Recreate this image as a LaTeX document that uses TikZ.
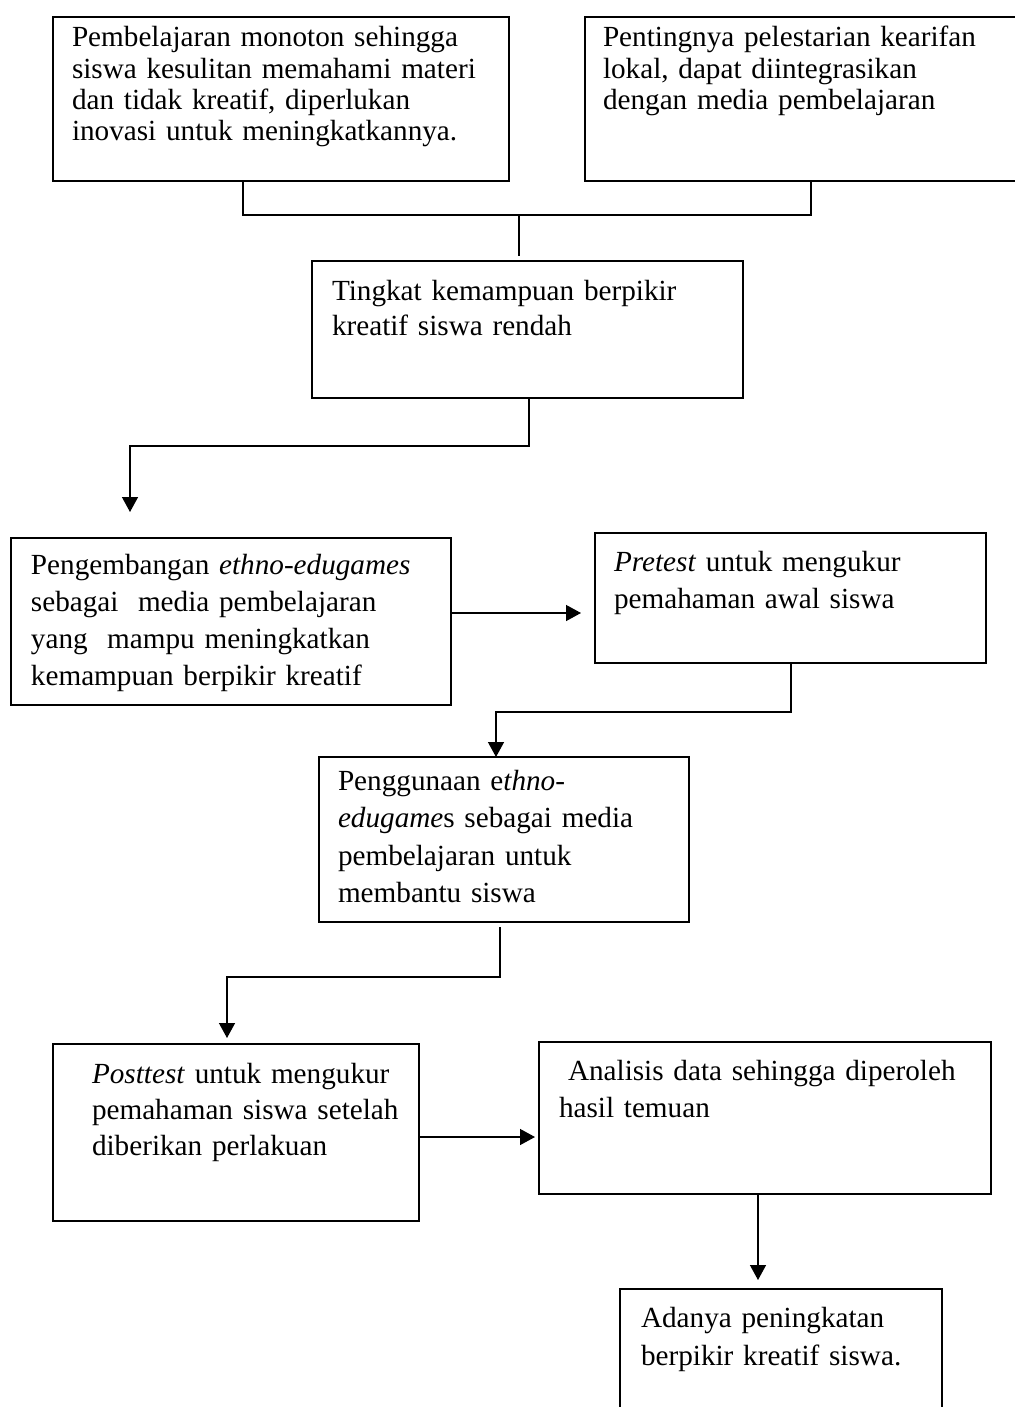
\documentclass[tikz,border=0pt]{standalone}
\usepackage{fontspec}
\setmainfont{Liberation Serif}
\usetikzlibrary{arrows.meta}
\begin{document}
\begin{tikzpicture}[x=0.5pt,y=-0.5pt,
  box/.style={draw, line width=0.7pt, anchor=north west, inner sep=0pt, outer sep=0pt},
  txt/.style={anchor=base west, inner sep=0pt, outer sep=0pt, align=left, text width=215pt,
              font=\fontsize{14.6pt}{#1}\selectfont},
  con/.style={line width=0.7pt},
  arr/.style={line width=0.7pt, -{Triangle[width=8pt,length=7.5pt]}}]
\fill[white] (0,0) rectangle (1014,1407);
\useasboundingbox (0,0) rectangle (1014,1407);

% boxes
\node[box, minimum width=228pt, minimum height=82pt] (b1) at (53,17) {};
\node[box, minimum width=218pt, minimum height=82pt] (b2) at (585,17) {};
\node[box, minimum width=215.5pt, minimum height=68.5pt] (b3) at (312,261) {};
\node[box, minimum width=220pt, minimum height=83.5pt] (b4) at (11,538) {};
\node[box, minimum width=195.5pt, minimum height=65pt] (b5) at (595,533) {};
\node[box, minimum width=185pt, minimum height=82.5pt] (b6) at (319,757) {};
\node[box, minimum width=183pt, minimum height=88.5pt] (b7) at (53,1044) {};
\node[box, minimum width=226pt, minimum height=76pt] (b8) at (539,1042) {};
\node[box, minimum width=161pt, minimum height=70pt] (b9) at (620,1289) {};

% texts
\node[txt=15.65pt] (t1) at (72,47) {Pembelajaran monoton sehingga\\siswa kesulitan memahami materi\\dan tidak kreatif, diperlukan\\inovasi untuk meningkatkannya.};
\node[txt=15.65pt] (t2) at (603,47) {Pentingnya pelestarian kearifan\\lokal, dapat diintegrasikan\\dengan media pembelajaran};
\node[txt=17.5pt] (t3) at (332,300) {Tingkat kemampuan berpikir\\kreatif siswa rendah};
\node[txt=18.5pt] (t4) at (31,574) {Pengembangan \textit{ethno-edugames}\\sebagai\ \ media pembelajaran\\yang\ \ mampu meningkatkan\\kemampuan berpikir kreatif};
\node[txt=18.5pt] (t5) at (614,571) {\textit{Pretest} untuk mengukur\\pemahaman awal siswa};
\node[txt=18.75pt] (t6) at (338,790) {Penggunaan e\textit{thno-}\\\textit{edugame}s sebagai media\\pembelajaran untuk\\membantu siswa};
\node[txt=18pt] (t7) at (92,1083) {\textit{Posttest} untuk mengukur\\pemahaman siswa setelah\\diberikan perlakuan};
\node[txt=18.5pt] (t8) at (559,1080) {\hspace*{4.5pt}Analisis data sehingga diperoleh\\hasil temuan};
\node[txt=19pt] (t9) at (641,1327) {Adanya peningkatan\\berpikir kreatif siswa.};

% connectors
\coordinate (j1) at (243,215);
\coordinate (j2) at (811,215);
\coordinate (j3) at (519,215);
\coordinate (e3) at (519,256);
\draw[con] (b1.south -| j1) -- (j1) -- (j2) -- (b2.south -| j2);
\draw[con] (j3) -- (e3);

\coordinate (k1) at (529,446);
\coordinate (k2) at (130,446);
\coordinate (k3) at (130,512);
\draw[arr] (b3.south -| k1) -- (k1) -- (k2) -- (k3);

\coordinate (m1) at (581,613);
\draw[arr] (b4.east |- m1) -- (m1);

\coordinate (n1) at (791,712);
\coordinate (n2) at (496,712);
\draw[arr] (b5.south -| n1) -- (n1) -- (n2) -- (b6.north -| n2);

\coordinate (p0) at (500,927);
\coordinate (p1) at (500,977);
\coordinate (p2) at (227,977);
\coordinate (p3) at (227,1038);
\draw[arr] (p0) -- (p1) -- (p2) -- (p3);

\coordinate (q1) at (535,1137);
\draw[arr] (b7.east |- q1) -- (q1);

\coordinate (r1) at (758,1280);
\draw[arr] (b8.south -| r1) -- (r1);
\end{tikzpicture}
\end{document}
